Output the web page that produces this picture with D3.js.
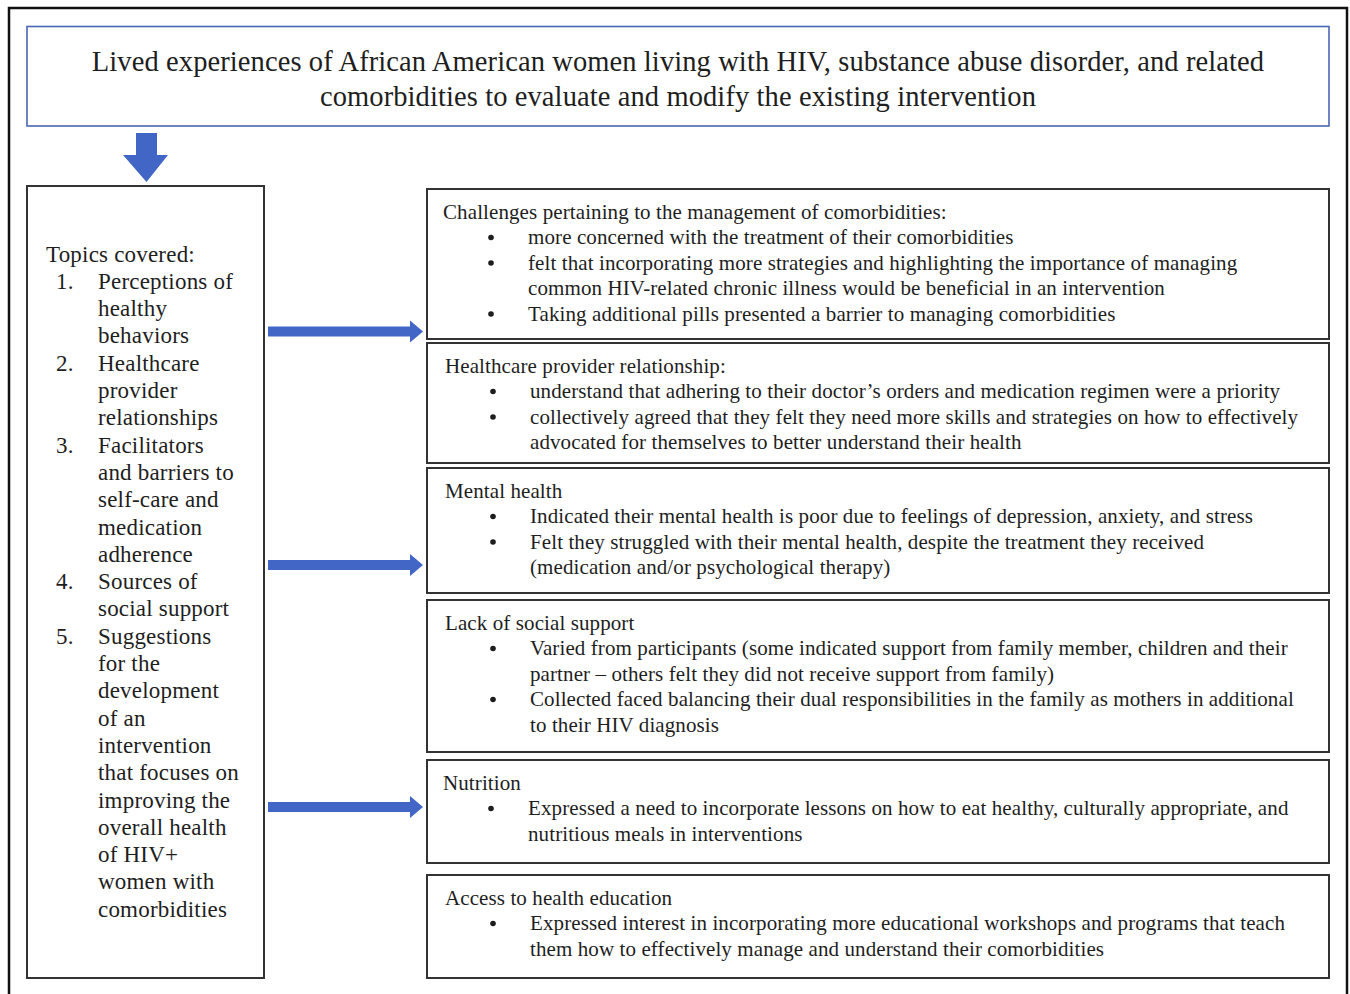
<!DOCTYPE html>
<html>
<head>
<meta charset="utf-8">
<script src="https://cdn.jsdelivr.net/npm/d3@7"></script>
<style>
  body { margin: 0; background: #fff; }
  text { font-family: "Liberation Serif", "Times New Roman", serif; fill: #1e1e1e; }
</style>
</head>
<body>
<div id="chart"></div>
<script>
// --- content ---
var titleLines = [
  "Lived experiences of African American women living with HIV, substance abuse disorder, and related",
  "comorbidities to evaluate and modify the existing intervention"
];

var topicsHeading = "Topics covered:";
var topics = [
  ["Perceptions of", "healthy", "behaviors"],
  ["Healthcare", "provider", "relationships"],
  ["Facilitators", "and barriers to", "self-care and", "medication", "adherence"],
  ["Sources of", "social support"],
  ["Suggestions", "for the", "development", "of an", "intervention", "that focuses on", "improving the", "overall health", "of HIV+", "women with", "comorbidities"]
];

var themeHeadings = [
  "Challenges pertaining to the management of comorbidities:",
  "Healthcare provider relationship:",
  "Mental health",
  "Lack of social support",
  "Nutrition",
  "Access to health education"
];

var themeBullets = [
  [["more concerned with the treatment of their comorbidities"],
   ["felt that incorporating more strategies and highlighting the importance of managing",
    "common HIV-related chronic illness would be beneficial in an intervention"],
   ["Taking additional pills presented a barrier to managing comorbidities"]],
  [["understand that adhering to their doctor\u2019s orders and medication regimen were a priority"],
   ["collectively agreed that they felt they need more skills and strategies on how to effectively",
    "advocated for themselves to better understand their health"]],
  [["Indicated their mental health is poor due to feelings of depression, anxiety, and stress"],
   ["Felt they struggled with their mental health, despite the treatment they received",
    "(medication and/or psychological therapy)"]],
  [["Varied from participants (some indicated support from family member, children and their",
    "partner \u2013 others felt they did not receive support from family)"],
   ["Collected faced balancing their dual responsibilities in the family as mothers in additional",
    "to their HIV diagnosis"]],
  [["Expressed a need to incorporate lessons on how to eat healthy, culturally appropriate, and",
    "nutritious meals in interventions"]],
  [["Expressed interest in incorporating more educational workshops and programs that teach",
    "them how to effectively manage and understand their comorbidities"]]
];

// --- layout ---
var w = 1350, h = 994;
var blue = "#4166c6";
var boxStroke = "#333";

var svg = d3.select("#chart").append("svg")
  .attr("width", w).attr("height", h);

// outer frame
svg.append("rect")
  .attr("x", 9).attr("y", 8).attr("width", 1338).attr("height", 1000)
  .attr("fill", "none").attr("stroke", "#111").attr("stroke-width", 2.5);

// title box
svg.append("rect")
  .attr("x", 27).attr("y", 26.5).attr("width", 1302).attr("height", 99.5)
  .attr("fill", "none").attr("stroke", "#4a67b3").attr("stroke-width", 1.6);

svg.selectAll(".title")
  .data(titleLines)
  .enter().append("text")
  .attr("class", "title")
  .attr("x", 678)
  .attr("y", function(d, i) { return 70.5 + i * 35; })
  .attr("text-anchor", "middle")
  .attr("font-size", 28.5)
  .attr("letter-spacing", 0.1)
  .text(function(d) { return d; });

// down arrow
svg.append("path")
  .attr("d", "M136,133 L157,133 L157,155 L168,155 L146.5,182 L123,155 L136,155 Z")
  .attr("fill", blue);

// left box
svg.append("rect")
  .attr("x", 27).attr("y", 186).attr("width", 237).attr("height", 792)
  .attr("fill", "none").attr("stroke", boxStroke).attr("stroke-width", 2);

var leftLine = 27.3;
var leftText = svg.append("g").attr("font-size", 23).attr("letter-spacing", 0.2);
leftText.append("text").attr("x", 46).attr("y", 261.5).text(topicsHeading);
var row = 1;
topics.forEach(function(lines, i) {
  leftText.append("text").attr("x", 56).attr("y", 261.5 + row * leftLine).text((i + 1) + ".");
  lines.forEach(function(l) {
    leftText.append("text").attr("x", 98).attr("y", 261.5 + row * leftLine).text(l);
    row++;
  });
});

// horizontal arrows
var arrowY = [331.5, 565, 807];
svg.selectAll(".harrow")
  .data(arrowY)
  .enter().append("path")
  .attr("class", "harrow")
  .attr("d", function(y) {
    return "M268," + (y - 5) + " L410," + (y - 5) + " L410," + (y - 11) +
      " L423," + y + " L410," + (y + 11) + " L410," + (y + 5) + " L268," + (y + 5) + " Z";
  })
  .attr("fill", blue);

// theme boxes
var boxTop = [189, 343, 468, 600, 760, 875];
var boxBottom = [339, 463, 593, 752, 863, 978];
var headX = [443, 445, 445, 445, 443, 445];
var lineH = 25.5;

themeHeadings.forEach(function(head, i) {
  var g = svg.append("g").attr("font-size", 21).attr("letter-spacing", 0.1);
  g.append("rect")
    .attr("x", 427).attr("y", boxTop[i]).attr("width", 902).attr("height", boxBottom[i] - boxTop[i])
    .attr("fill", "none").attr("stroke", boxStroke).attr("stroke-width", 2);
  var y0 = boxTop[i] + 29.5;
  g.append("text").attr("x", headX[i]).attr("y", y0).text(head);
  var r = 1;
  themeBullets[i].forEach(function(b) {
    g.append("circle")
      .attr("cx", headX[i] + 48).attr("cy", y0 + r * lineH - 6.5).attr("r", 2.8)
      .attr("fill", "#1e1e1e");
    b.forEach(function(l) {
      g.append("text").attr("x", headX[i] + 85).attr("y", y0 + r * lineH).text(l);
      r++;
    });
  });
});
</script>
</body>
</html>
